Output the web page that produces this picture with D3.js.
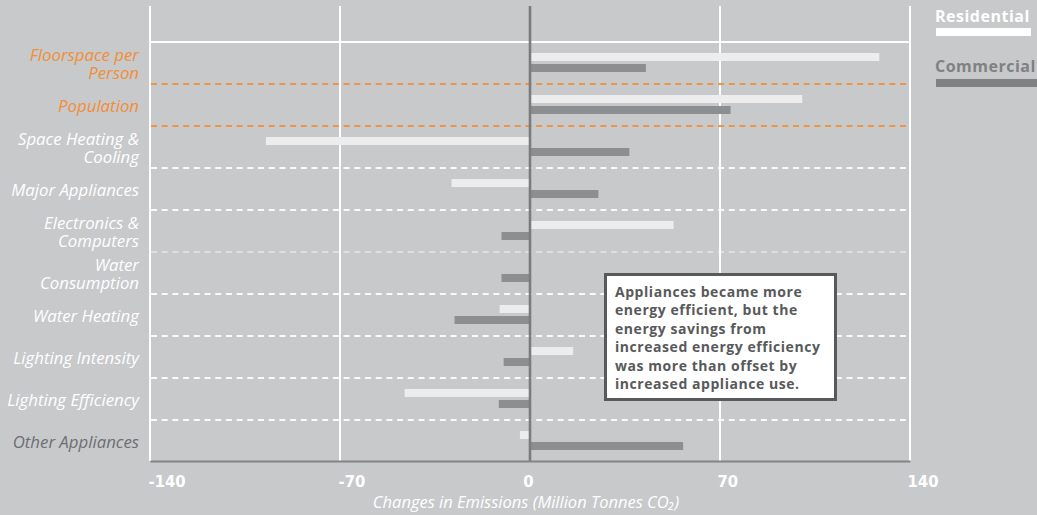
<!DOCTYPE html>
<html>
<head>
<meta charset="utf-8">
<script src="https://cdn.jsdelivr.net/npm/d3@7"></script>
<style>
  html, body { margin: 0; padding: 0; background: #c8c9cb; }
  svg { display: block; }
</style>
</head>
<body>
<svg id="chart" width="1037" height="515"></svg>
<script>
// ---- data ----
const categories = [
  "Floorspace per|Person",
  "Population",
  "Space Heating &|Cooling",
  "Major Appliances",
  "Electronics &|Computers",
  "Water|Consumption",
  "Water Heating",
  "Lighting Intensity",
  "Lighting Efficiency",
  "Other Appliances"
];
const residential = [128.7, 100.3, -97.3, -28.9, 52.9, 0, -11.2, 15.9, -46.2, -3.7];
const commercial  = [42.7, 73.9, 36.6, 25.2, -10.5, -10.5, -27.8, -9.7, -11.5, 56.4];
const labelKinds  = ["orange", "orange", "white", "white", "white", "white", "white", "white", "white", "dark"];
const tickValues  = [-140, -70, 0, 70, 140];
const seriesNames = ["Residential", "Commercial"];
const axisTitle   = "Changes in Emissions (Million Tonnes CO\u2082)";
const noteLines = [
  "Appliances became more",
  "energy efficient, but the",
  "energy savings from",
  "increased energy efficiency",
  "was more than offset by",
  "increased appliance use."
];

// ---- styling ----
const C = {
  bg: "#c8c9cb",
  res: "#ededed",
  com: "#8d8e90",
  zero: "#7b7c7e",
  orange: "#f18e38",
  white: "#ffffff",
  dark: "#6d6e71",
  note: "#58595b",
  legendCom: "#808183"
};
const labelColor = {orange: C.orange, white: C.white, dark: C.dark};

const svg = d3.select("#chart");
svg.append("rect").attr("width", 1037).attr("height", 515).attr("fill", C.bg);

const x = d3.scaleLinear().domain([-140, 140]).range([150, 910]);
const y = d3.scaleBand().domain(categories).range([42, 462]).padding(0);

const bh = 8;

// gridlines (vertical)
svg.append("g").selectAll("line")
  .data(tickValues.filter(v => v !== 0))
  .join("line")
  .attr("x1", d => x(d)).attr("x2", d => x(d))
  .attr("y1", 6).attr("y2", 461)
  .attr("stroke", C.white).attr("stroke-width", 2);

// top horizontal line
svg.append("line")
  .attr("x1", x(-140)).attr("x2", x(140))
  .attr("y1", 42).attr("y2", 42)
  .attr("stroke", C.white).attr("stroke-width", 2);

// row separators
const seps = categories.slice(0, categories.length - 1).map((c, i) => ({
  y: y(c) + y.bandwidth(), i
}));
svg.append("g").selectAll("line")
  .data(seps)
  .join("line")
  .attr("x1", x(-140) + 1).attr("x2", x(140))
  .attr("y1", d => d.y).attr("y2", d => d.y)
  .attr("stroke", d => d.i < 2 ? C.orange : C.white)
  .attr("stroke-width", d => d.i === 4 ? 1.3 : 1.8)
  .attr("stroke-opacity", d => d.i === 4 ? 0.55 : 0.9)
  .attr("stroke-dasharray", "6,4.7");

// bars
const rows = categories.map((c, i) => ({c, r: residential[i], m: commercial[i]}));
const gBars = svg.append("g");
gBars.selectAll("rect.res")
  .data(rows).join("rect").attr("class", "res")
  .attr("x", d => x(Math.min(0, d.r)))
  .attr("width", d => Math.abs(x(d.r) - x(0)))
  .attr("y", d => y(d.c) + 11)
  .attr("height", bh)
  .attr("fill", C.res);
gBars.selectAll("rect.com")
  .data(rows).join("rect").attr("class", "com")
  .attr("x", d => x(Math.min(0, d.m)))
  .attr("width", d => Math.abs(x(d.m) - x(0)))
  .attr("y", d => y(d.c) + 22)
  .attr("height", bh)
  .attr("fill", C.com);

// zero line
svg.append("line")
  .attr("x1", x(0)).attr("x2", x(0))
  .attr("y1", 6).attr("y2", 461)
  .attr("stroke", C.zero).attr("stroke-width", 2.6);

// bottom axis
const axis = d3.axisBottom(x).tickValues(tickValues).tickSize(0).tickFormat(d => String(d));
const gAx = svg.append("g").attr("transform", "translate(0,461)").call(axis);
gAx.select(".domain").attr("stroke", "#838486").attr("stroke-width", 2);
gAx.selectAll("text")
  .attr("fill", C.white)
  .attr("font-family", "'DejaVu Sans Condensed', 'DejaVu Sans', sans-serif")
  .attr("font-weight", "bold")
  .attr("font-size", 16.5)
  .attr("y", 26)
  .attr("dy", 0)
  .attr("text-anchor", d => d === 0 ? "middle" : "start")
  .attr("dx", d => d === 0 ? -2 : (d < 0 ? -2 : -3));

// axis title
svg.append("text")
  .attr("x", 526).attr("y", 508)
  .attr("text-anchor", "middle")
  .attr("fill", C.white)
  .attr("font-family", "'Open Sans', sans-serif")
  .attr("font-style", "italic")
  .attr("font-size", 16.5)
  .text(axisTitle);

// category labels
const gLab = svg.append("g");
categories.forEach((c, i) => {
  const parts = c.split("|");
  const cy = y(c) + y.bandwidth() / 2;
  const t = gLab.append("text")
    .attr("text-anchor", "end")
    .attr("fill", labelColor[labelKinds[i]])
    .attr("font-family", "'Open Sans', sans-serif")
    .attr("font-style", "italic")
    .attr("font-size", 16.8);
  if (parts.length === 1) {
    t.append("tspan").attr("x", 139).attr("y", cy + 6.5).text(parts[0]);
  } else {
    t.append("tspan").attr("x", 139).attr("y", cy - 2.5).text(parts[0]);
    t.append("tspan").attr("x", 139).attr("y", cy + 15.5).text(parts[1]);
  }
});

// legend
const legend = [
  {name: seriesNames[0], color: C.white, bar: C.white, ty: 22, by: 28, bw: 95},
  {name: seriesNames[1], color: C.legendCom, bar: C.legendCom, ty: 72, by: 79, bw: 101}
];
const gLeg = svg.append("g");
legend.forEach(l => {
  gLeg.append("text")
    .attr("x", 935).attr("y", l.ty)
    .attr("fill", l.color)
    .attr("font-family", "'Open Sans', sans-serif")
    .attr("font-weight", "bold")
    .attr("font-size", 16)
    .attr("letter-spacing", 0.5)
    .text(l.name);
  gLeg.append("rect")
    .attr("x", 936).attr("y", l.by)
    .attr("width", l.bw).attr("height", 8)
    .attr("fill", l.bar);
});

// annotation
const gNote = svg.append("g");
gNote.append("rect")
  .attr("x", 605.5).attr("y", 274.5)
  .attr("width", 230).attr("height", 125)
  .attr("fill", "#ffffff")
  .attr("stroke", C.note).attr("stroke-width", 3);
const nt = gNote.append("text")
  .attr("fill", C.note)
  .attr("font-family", "'Open Sans', sans-serif")
  .attr("font-weight", "bold")
  .attr("font-size", 14)
  .attr("letter-spacing", 0.55);
noteLines.forEach((ln, i) => {
  nt.append("tspan").attr("x", 615).attr("y", 297 + i * 18.45).text(ln);
});
</script>
</body>
</html>
